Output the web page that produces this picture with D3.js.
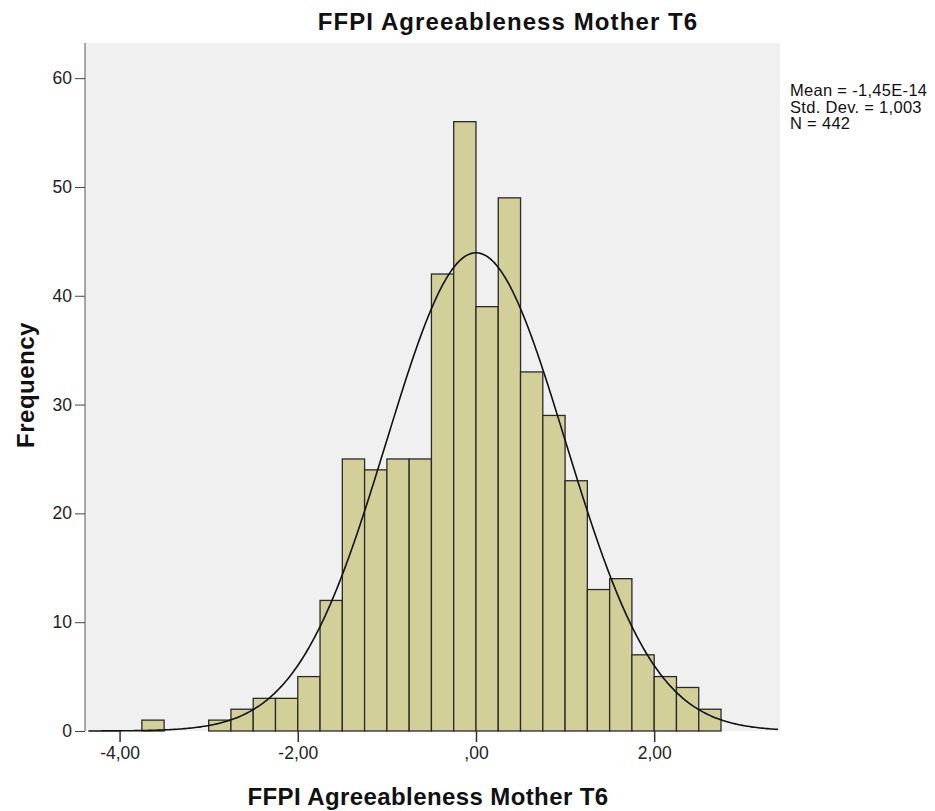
<!DOCTYPE html>
<html><head><meta charset="utf-8">
<script src="https://cdn.jsdelivr.net/npm/d3@7"></script>
<style>body{margin:0;background:#fff;} text{font-family:"Liberation Sans",Arial,sans-serif;}</style>
</head><body>
<svg id="c" width="935" height="811"></svg>
<script>
const binStarts = [-3.75,-3.5,-3.25,-3.0,-2.75,-2.5,-2.25,-2.0,-1.75,-1.5,-1.25,-1.0,-0.75,-0.5,-0.25,0.0,0.25,0.5,0.75,1.0,1.25,1.5,1.75,2.0,2.25,2.5];
const counts    = [1,0,0,1,2,3,3,5,12,25,24,25,25,42,56,39,49,33,29,23,13,14,7,5,4,2];
const binWidth = 0.25;
const xTicks = [-4,-2,0,2];
const xTickLabels = ["-4,00","-2,00",",00","2,00"];
const yTicks = [0,10,20,30,40,50,60];
const stats = ["Mean = -1,45E-14","Std. Dev. = 1,003","N = 442"];
const mean = -1.45e-14, sd = 1.003, N = 442;
const title = "FFPI Agreeableness Mother T6";
const xLabel = "FFPI Agreeableness Mother T6";
const yLabel = "Frequency";

const svg = d3.select("#c");
const L = 85, R = 780, T = 43, B = 731;
const x = d3.scaleLinear().domain([-4.388, 3.412]).range([L, R]);
const y = d3.scaleLinear().domain([0, 63.23]).range([B, T]);

svg.append("rect").attr("x",L).attr("y",T).attr("width",R-L).attr("height",B-T).attr("fill","#f0f0f0");

const bars = binStarts.map((s,i)=>({s, c:counts[i]})).filter(d=>d.c>0);
svg.append("g").selectAll("rect").data(bars).join("rect")
  .attr("x", d=>x(d.s)).attr("width", d=>x(d.s+binWidth)-x(d.s))
  .attr("y", d=>y(d.c)).attr("height", d=>y(0)-y(d.c))
  .attr("fill","#d3cf98").attr("stroke","#2a2a2a").attr("stroke-width",1.3);

// normal curve from stated mean/sd
const pts = d3.range(-4.35, 3.401, 0.02).map(v=>[v, N*binWidth*Math.exp(-0.5*((v-mean)/sd)**2)/(sd*Math.sqrt(2*Math.PI))]);
svg.append("path").datum(pts).attr("fill","none").attr("stroke","#111").attr("stroke-width",1.6)
  .attr("d", d3.line().x(d=>x(d[0])).y(d=>y(d[1])));

// y axis
const ya = svg.append("g").attr("transform",`translate(${L},0)`)
  .call(d3.axisLeft(y).tickValues(yTicks).tickSize(10).tickPadding(3).tickFormat(d3.format("d")));
ya.select(".domain").attr("stroke","#555").attr("d",`M0,${T}V${B}`);
ya.selectAll(".tick line").attr("stroke","#444");
ya.selectAll("text").attr("font-size",17.5).attr("fill","#222").style("font-family","Liberation Sans, Arial, sans-serif");

// x axis
const xa = svg.append("g").attr("transform",`translate(0,${B})`)
  .call(d3.axisBottom(x).tickValues(xTicks).tickSize(11).tickPadding(5).tickFormat((d,i)=>xTickLabels[i]));
xa.select(".domain").remove();
xa.selectAll(".tick line").attr("stroke","#333").attr("stroke-width",1.5);
xa.selectAll("text").attr("font-size",17.5).attr("fill","#222").style("font-family","Liberation Sans, Arial, sans-serif");

svg.append("text").attr("x",508).attr("y",30).attr("text-anchor","middle")
  .attr("font-size",24).attr("font-weight","bold").attr("letter-spacing",1.1).attr("fill","#111").text(title);
svg.append("text").attr("x",428).attr("y",805).attr("text-anchor","middle")
  .attr("font-size",24).attr("font-weight","bold").attr("letter-spacing",0.4).attr("fill","#111").text(xLabel);
svg.append("text").attr("transform","translate(34,385) rotate(-90)").attr("text-anchor","middle")
  .attr("font-size",24).attr("font-weight","bold").attr("letter-spacing",0.5).attr("fill","#111").text(yLabel);

svg.append("g").selectAll("text").data(stats).join("text")
  .attr("x",790).attr("y",(d,i)=>96+i*16.5).attr("font-size",16.5).attr("letter-spacing",0.3).attr("fill","#111").text(d=>d);
</script>
</body></html>
